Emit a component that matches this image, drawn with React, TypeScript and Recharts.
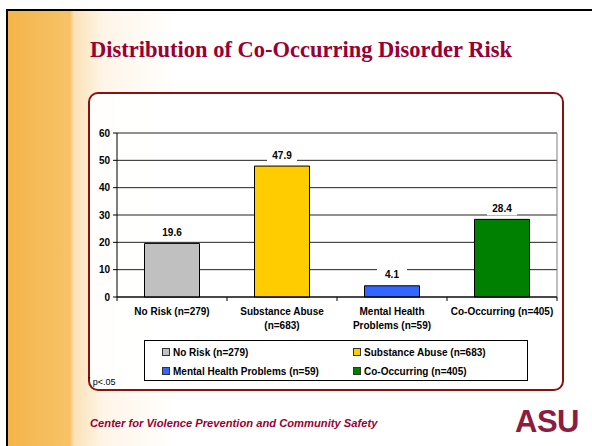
import { BarChart, Bar, XAxis, YAxis, CartesianGrid, Legend, LabelList, Cell } from 'recharts';

const categories = ['No Risk (n=279)', 'Substance Abuse (n=683)', 'Mental Health Problems (n=59)', 'Co-Occurring (n=405)'];
const tickLines = [['No Risk (n=279)'], ['Substance Abuse', '(n=683)'], ['Mental Health', 'Problems (n=59)'], ['Co-Occurring (n=405)']];
const percents = [19.6, 47.9, 4.1, 28.4];
const colors = ['#C0C0C0', '#FFCC00', '#3366FF', '#008000'];
const yTicks = [0, 10, 20, 30, 40, 50, 60];

const data = categories.map((name, i) => ({ name, value: percents[i] }));

const FONT = '"Liberation Sans", Arial, sans-serif';
const BAND = 110;

function CategoryTick(props: any) {
  const { x, y, index } = props;
  const lines = tickLines[index] || [];
  return (
    <g>
      <line x1={x - BAND / 2} y1={y - 14} x2={x - BAND / 2} y2={y - 10} stroke="#000" />
      {index === categories.length - 1 && (
        <line x1={x + BAND / 2} y1={y - 14} x2={x + BAND / 2} y2={y - 10} stroke="#000" />
      )}
      <text x={x} y={y} textAnchor="middle" fontSize={10} fontWeight="bold" fontFamily={FONT} fill="#000">
        {lines.map((l, i) => (
          <tspan key={i} x={x} dy={i === 0 ? '0.35em' : 14}>{l}</tspan>
        ))}
      </text>
    </g>
  );
}

function ValueLabel(props: any) {
  const { x, y, width, value } = props;
  const cx = x + width / 2;
  return (
    <g>
      <rect x={cx - 15} y={y - 18} width={30} height={14} fill="#fff" />
      <text x={cx} y={y - 11} dy="0.35em" textAnchor="middle" fontSize={10} fontWeight="bold" fontFamily={FONT} fill="#000">
        {value}
      </text>
    </g>
  );
}

function LegendBox() {
  const pos = [
    { left: 17, top: 11 },
    { left: 208, top: 11 },
    { left: 17, top: 30 },
    { left: 208, top: 30 },
  ];
  return (
    <div style={{ position: 'relative', width: 382, height: 39, border: '1px solid #000', background: '#fff', fontFamily: FONT, fontSize: 10, fontWeight: 'bold', color: '#000' }}>
      {categories.map((c, i) => (
        <div key={c} style={{ position: 'absolute', left: pos[i].left, top: pos[i].top - 7, height: 14, display: 'flex', alignItems: 'center', whiteSpace: 'nowrap' }}>
          <span style={{ display: 'inline-block', width: 6, height: 6, background: colors[i], border: '1px solid #333', marginRight: 3 }} />
          {c}
        </div>
      ))}
    </div>
  );
}

export default function App() {
  return (
    <div style={{ position: 'absolute', left: 0, top: 0, width: 592, height: 446, background: '#fff', overflow: 'hidden' }}>
      <div style={{ position: 'absolute', left: 6, top: 9, right: 0, bottom: 0, borderLeft: '2px solid #000', borderTop: '2px solid #000', background: 'linear-gradient(to right, #F4B54A 0px, #F7C267 62px, #FBE2B6 66px, #FEF5E8 95px, #ffffff 170px)' }} />
      <div style={{ position: 'absolute', left: 90, top: 37, fontFamily: '"Liberation Serif", "Times New Roman", serif', fontWeight: 'bold', fontSize: 22.5, color: '#990033', whiteSpace: 'nowrap' }}>
        Distribution of Co-Occurring Disorder Risk
      </div>
      <div style={{ position: 'absolute', left: 88, top: 92, width: 472, height: 295, border: '2px solid #8B1010', borderRadius: 10, background: 'rgba(255,255,255,0.9)' }} />
      <div style={{ position: 'absolute', left: 89, top: 92 }}>
        <BarChart width={475} height={300} data={data} margin={{ top: 41, right: 7, bottom: 11, left: 0 }} barCategoryGap="25%">
          <CartesianGrid horizontal vertical={false} stroke="#222" />
          <CartesianGrid horizontal={false} vertical stroke="#808080" verticalCoordinatesGenerator={({ offset }: any) => [offset.left + offset.width]} />
          <XAxis dataKey="name" type="category" axisLine={{ stroke: '#000' }} tickLine={false} tickSize={4} tickMargin={10} height={43} interval={0} tick={<CategoryTick />} />
          <YAxis type="number" domain={[0, 60]} ticks={yTicks} width={28} tickSize={4} tickMargin={3} axisLine={{ stroke: '#000' }} tickLine={{ stroke: '#000' }} tick={{ fontSize: 10, fontWeight: 'bold', fill: '#000', fontFamily: FONT }} />
          <Legend verticalAlign="bottom" wrapperStyle={{ left: 55, bottom: 11, width: 384, height: 41 }} content={() => <LegendBox />} />
          <Bar dataKey="value" stroke="#000" strokeWidth={1} isAnimationActive={false}>
            {data.map((d, i) => (
              <Cell key={d.name} fill={colors[i]} />
            ))}
            <LabelList dataKey="value" content={<ValueLabel />} />
          </Bar>
        </BarChart>
      </div>
      <div style={{ position: 'absolute', left: 88, top: 376, fontFamily: FONT, fontSize: 9, color: '#000' }}>
        <sup style={{ fontSize: 6 }}>*</sup> p&lt;.05
      </div>
      <div style={{ position: 'absolute', left: 90, top: 417, fontFamily: FONT, fontSize: 11.2, fontWeight: 'bold', fontStyle: 'italic', color: '#990033', whiteSpace: 'nowrap' }}>
        Center for Violence Prevention and Community Safety
      </div>
      <div style={{ position: 'absolute', left: 515, top: 404, fontFamily: '"Liberation Sans Narrow", "Liberation Sans", sans-serif', fontSize: 31, fontWeight: 'bold', color: '#8C1D40', letterSpacing: -0.5, lineHeight: '36px' }}>
        ASU
      </div>
    </div>
  );
}
